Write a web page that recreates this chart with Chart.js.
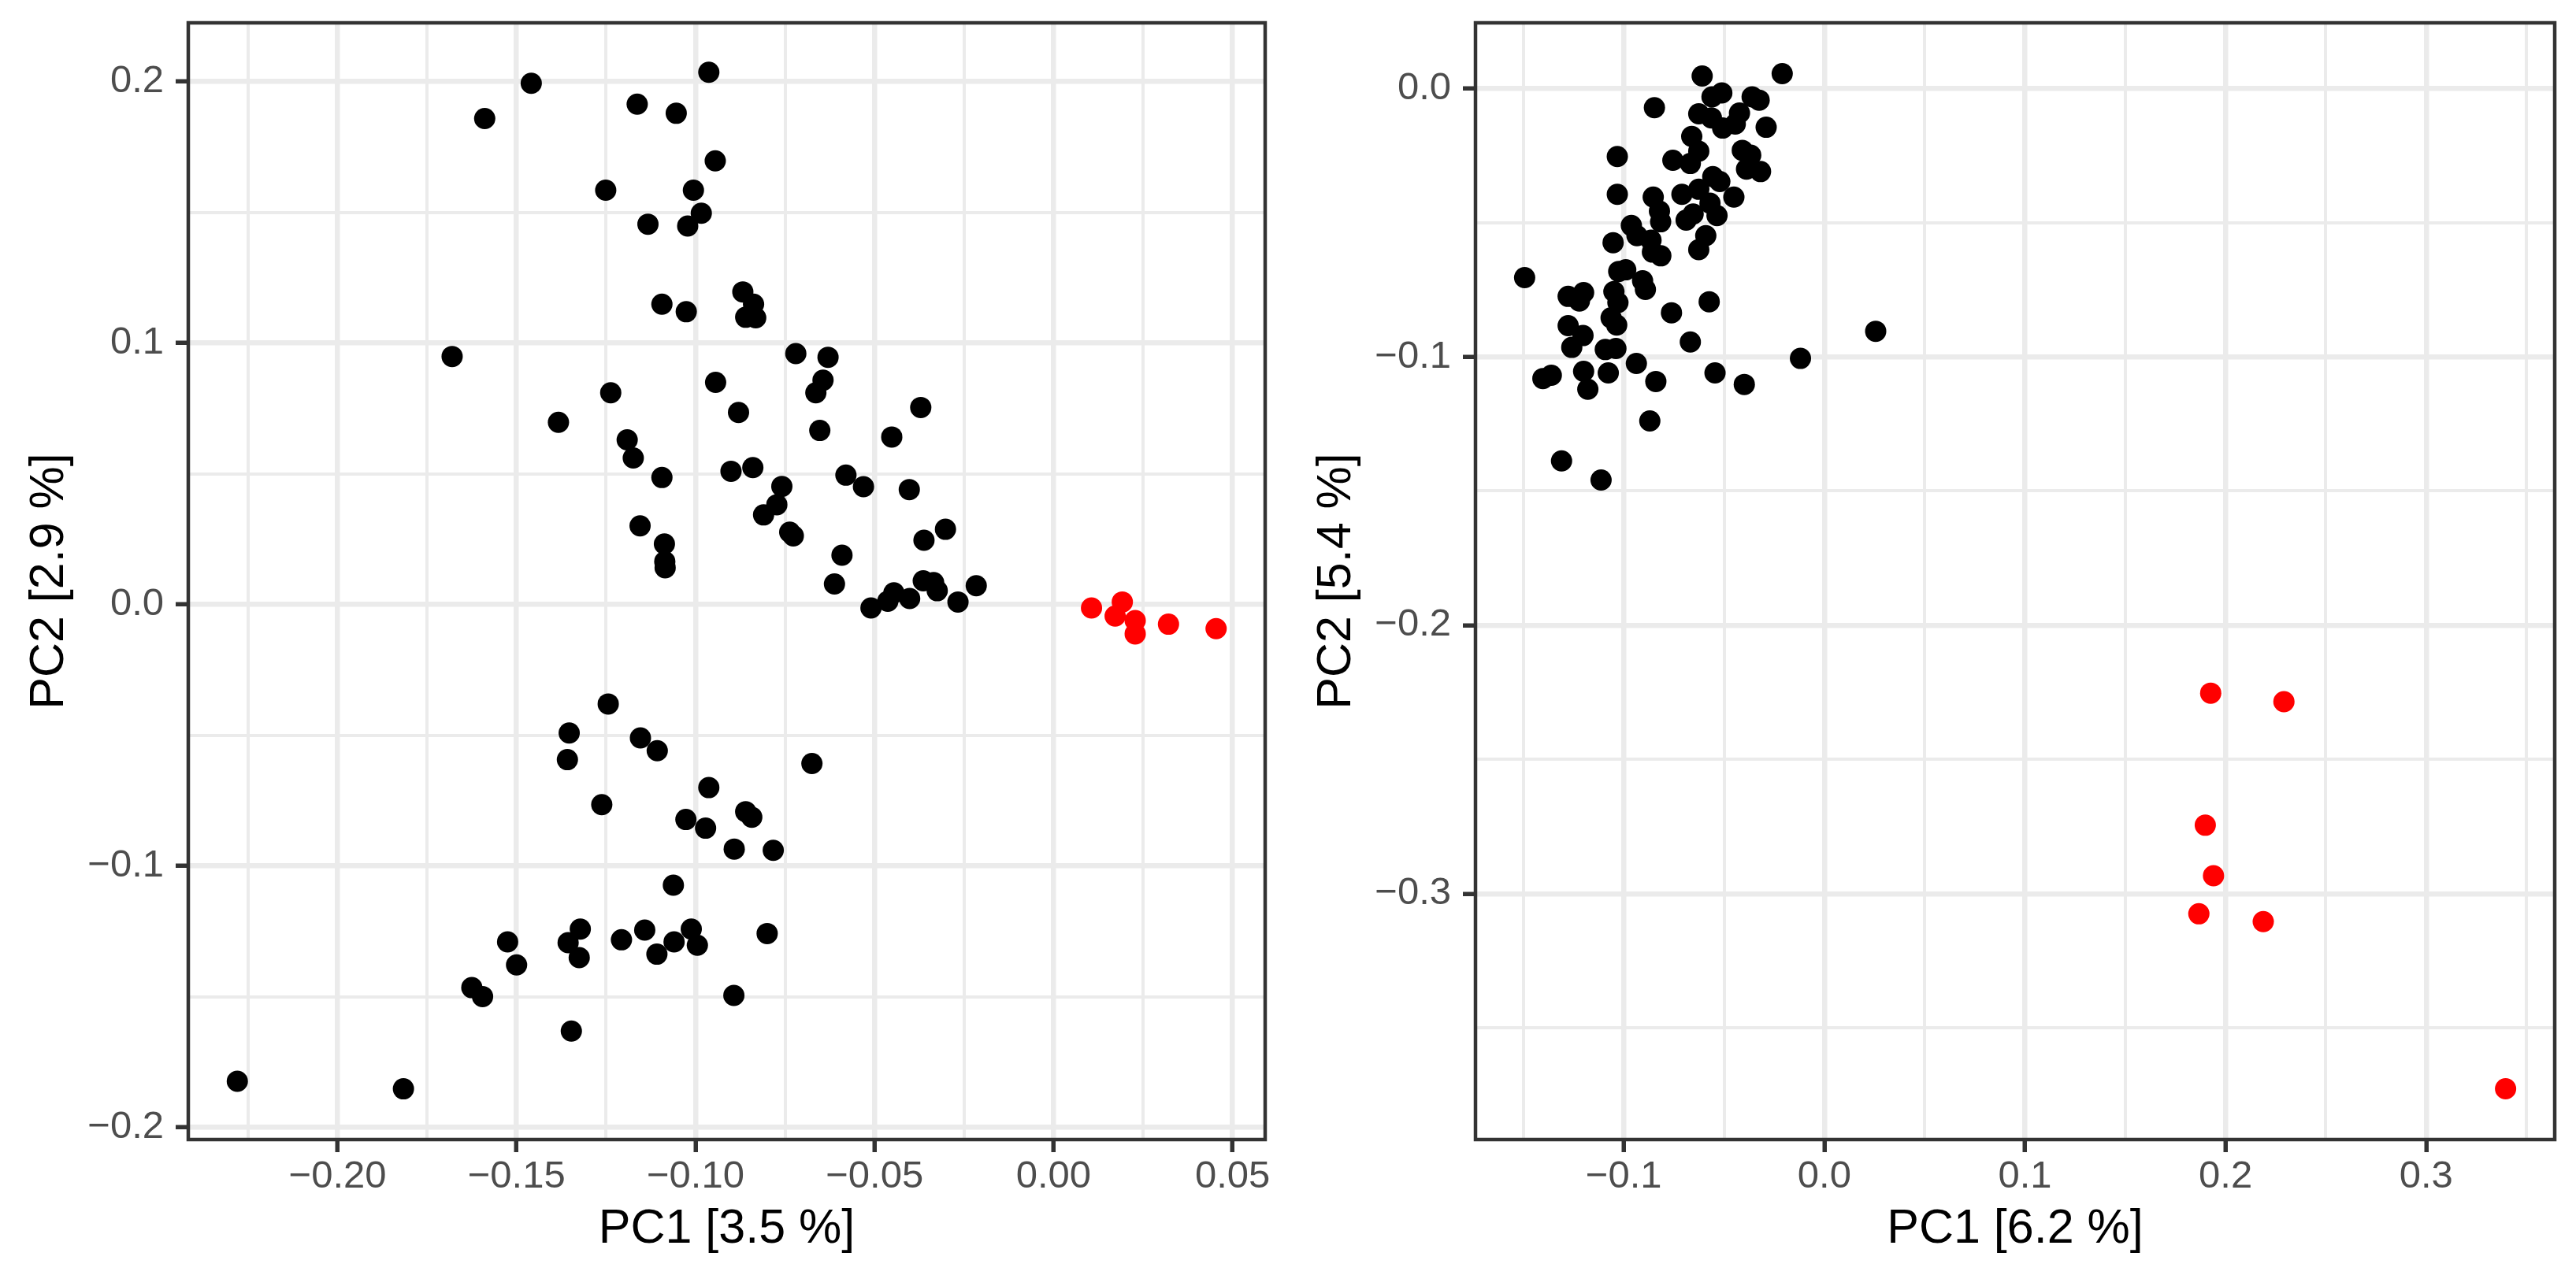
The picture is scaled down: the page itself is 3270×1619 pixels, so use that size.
<!DOCTYPE html>
<html>
<head>
<meta charset="utf-8">
<title>PCA</title>
<script src="https://cdn.jsdelivr.net/npm/chart.js@4.4.1/dist/chart.umd.min.js"></script>
<style>
    html, body { margin: 0; padding: 0; background: #ffffff; }
    #wrap { position: relative; width: 3270px; height: 1619px; }
    canvas { position: absolute; top: 0; }
    #pcaLeft { left: 0; }
    #pcaRight { left: 1640px; }
</style>
</head>
<body>
<div id="wrap">
    <canvas id="pcaLeft" width="1640" height="1619"></canvas>
    <canvas id="pcaRight" width="1630" height="1619"></canvas>
</div>
<script>
// ==================== DATA ====================
// Left panel (PC1 3.5 % / PC2 2.9 %)
const leftBlackX = [
    -0.0963, -0.1459, -0.1589, -0.1163, -0.1054, -0.0945, -0.1251, -0.1006, -0.0984, -0.1133,
    -0.1022, -0.1094, -0.1026, -0.1680, -0.0944, -0.1237, -0.1383, -0.1191, -0.1174, -0.1094,
    -0.1155, -0.1087, -0.1086, -0.1085,
    -0.0868, -0.0838, -0.0860, -0.0832, -0.0720, -0.0630, -0.0644, -0.0664, -0.0880, -0.0371,
    -0.0653, -0.0452, -0.0901, -0.0840, -0.0759, -0.0580, -0.0531, -0.0403, -0.0773, -0.0810,
    -0.0737, -0.0727, -0.0302, -0.0362, -0.0591,
    -0.0612, -0.0510, -0.0463, -0.0446, -0.0402, -0.0364, -0.0335, -0.0325, -0.0267, -0.0216,
    -0.0675, -0.0860, -0.0843, -0.0892, -0.0783, -0.0800, -0.0893,
    -0.1244, -0.1353, -0.1154, -0.1107, -0.1358, -0.0963, -0.1262, -0.1027, -0.0972, -0.1062,
    -0.1525, -0.1322, -0.1356, -0.1325, -0.1500, -0.1207, -0.1142, -0.1060, -0.1012, -0.0995,
    -0.1108, -0.1625, -0.1595, -0.1347, -0.2280, -0.1816
];
const leftBlackY = [
    0.2036, 0.1994, 0.1859, 0.1914, 0.1879, 0.1697, 0.1585, 0.1585, 0.1497, 0.1455,
    0.1448, 0.1149, 0.1120, 0.0949, 0.0850, 0.0810, 0.0697, 0.0630, 0.0561, 0.0486,
    0.0301, 0.0232, 0.0165, 0.0141,
    0.1196, 0.1149, 0.1099, 0.1097, 0.0960, 0.0946, 0.0858, 0.0810, 0.0735, 0.0754,
    0.0666, 0.0641, 0.0510, 0.0524, 0.0452, 0.0495, 0.0451, 0.0440, 0.0382, 0.0343,
    0.0277, 0.0263, 0.0288, 0.0246, 0.0189,
    0.0079, -0.0013, 0.0013, 0.0045, 0.0023, 0.0091, 0.0084, 0.0053, 0.0010, 0.0072,
    -0.0608, -0.0792, -0.0813, -0.0935, -0.0940, -0.1258, -0.1495,
    -0.0380, -0.0491, -0.0510, -0.0559, -0.0593, -0.0700, -0.0765, -0.0822, -0.0855, -0.1073,
    -0.1290, -0.1241, -0.1293, -0.1350, -0.1378, -0.1282, -0.1245, -0.1290, -0.1241, -0.1303,
    -0.1337, -0.1465, -0.1499, -0.1631, -0.1823, -0.1852
];
const leftRedX = [0.0106, 0.0192, 0.0172, 0.0228, 0.0228, 0.0321, 0.0454];
const leftRedY = [-0.0013, 0.0010, -0.0044, -0.0061, -0.0112, -0.0075, -0.0092];

// Right panel (PC1 6.2 % / PC2 5.4 %)
const rightBlackX = [
    -0.0609, -0.0210, -0.0847, -0.0511, -0.0560, -0.0360, -0.0325, -0.0626, -0.0563, -0.0507,
    -0.0444, -0.0423, -0.0290, -0.0661, -0.0626, -0.1032, -0.0755, -0.0668, -0.0409, -0.0367,
    -0.0388, -0.0318, -0.0556, -0.0521, -0.0626, -0.0710, -0.1032, -0.0853, -0.0451, -0.0822,
    -0.0570, -0.0535, -0.0654, -0.0689, -0.0816, -0.0962, -0.0591, -0.1053, -0.0934, -0.0864,
    -0.0626, -0.0857, -0.0815, -0.1494, -0.1025, -0.0990, -0.0906, -0.0892, -0.1277, -0.1200,
    -0.1221, -0.1049, -0.1029, -0.0574, -0.0762, -0.1063, -0.1035, -0.1277, -0.1203, -0.1259,
    -0.0668, 0.0256, -0.1092, -0.1039, -0.0937, -0.0119, -0.1403, -0.1361, -0.1200, -0.1077,
    -0.0545, -0.1179, -0.0840, -0.0399, -0.0870, -0.1310, -0.1113
];
const rightBlackY = [
    0.0046, 0.0055, -0.0072, -0.0017, -0.0032, -0.0032, -0.0044, -0.0095, -0.0110, -0.0148,
    -0.0133, -0.0092, -0.0145, -0.0179, -0.0234, -0.0254, -0.0268, -0.0280, -0.0231, -0.0249,
    -0.0301, -0.0310, -0.0329, -0.0347, -0.0376, -0.0395, -0.0395, -0.0405, -0.0405, -0.0457,
    -0.0428, -0.0474, -0.0468, -0.0491, -0.0497, -0.0511, -0.0549, -0.0575, -0.0549, -0.0566,
    -0.0601, -0.0610, -0.0624, -0.0705, -0.0682, -0.0676, -0.0717, -0.0749, -0.0775, -0.0761,
    -0.0792, -0.0757, -0.0798, -0.0795, -0.0836, -0.0855, -0.0882, -0.0884, -0.0921, -0.0965,
    -0.0945, -0.0905, -0.0973, -0.0969, -0.1025, -0.1006, -0.1081, -0.1069, -0.1054, -0.1060,
    -0.1060, -0.1121, -0.1092, -0.1103, -0.1239, -0.1388, -0.1459
];
const rightRedX = [0.1926, 0.2291, 0.1899, 0.1940, 0.1867, 0.2188, 0.3396];
const rightRedY = [-0.2253, -0.2285, -0.2745, -0.2933, -0.3075, -0.3104, -0.3727];

// ==================== TICKS ====================
const leftXMajor = [-0.20, -0.15, -0.10, -0.05, 0.00, 0.05];
const leftXLabels = ['\u22120.20', '\u22120.15', '\u22120.10', '\u22120.05', '0.00', '0.05'];
const leftXMinor = [-0.225, -0.175, -0.125, -0.075, -0.025, 0.025];
const leftYMajor = [-0.2, -0.1, 0.0, 0.1, 0.2];
const leftYLabels = ['\u22120.2', '\u22120.1', '0.0', '0.1', '0.2'];
const leftYMinor = [-0.15, -0.05, 0.05, 0.15];

const rightXMajor = [-0.1, 0.0, 0.1, 0.2, 0.3];
const rightXLabels = ['\u22120.1', '0.0', '0.1', '0.2', '0.3'];
const rightXMinor = [-0.15, -0.05, 0.05, 0.15, 0.25, 0.35];
const rightYMajor = [-0.3, -0.2, -0.1, 0.0];
const rightYLabels = ['\u22120.3', '\u22120.2', '\u22120.1', '0.0'];
const rightYMinor = [-0.35, -0.25, -0.15, -0.05];

// ==================== HELPERS ====================
const FONT = "'Liberation Sans', Arial, Helvetica, sans-serif";

function toPoints(xs, ys) {
    return xs.map((x, i) => ({ x: x, y: ys[i] }));
}

function majorIndex(value, majors) {
    return majors.findIndex(m => Math.abs(m - value) < 1e-9);
}

function buildAxis(o) {
    const isX = o.axis === 'x';
    return {
        type: 'linear',
        position: isX ? 'bottom' : 'left',
        min: o.min,
        max: o.max,
        afterBuildTicks: (scale) => {
            const values = o.majors.concat(o.minors)
                .filter(v => v >= o.min && v <= o.max)
                .sort((a, b) => a - b);
            scale.ticks = values.map(v => ({ value: v }));
        },
        afterFit: (scale) => {
            if (isX) scale.height = o.size;
            else scale.width = o.size;
            scale.paddingLeft = 0;
            scale.paddingRight = 0;
            scale.paddingTop = 0;
            scale.paddingBottom = 0;
        },
        grid: {
            color: '#EBEBEB',
            lineWidth: (ctx) => (ctx.tick && majorIndex(ctx.tick.value, o.majors) >= 0) ? 6.5 : 4,
            drawTicks: true,
            tickLength: 16,
            tickWidth: 5.5,
            tickColor: (ctx) => (ctx.tick && majorIndex(ctx.tick.value, o.majors) >= 0) ? '#333333' : 'rgba(0,0,0,0)'
        },
        border: { display: false },
        ticks: {
            autoSkip: false,
            maxRotation: 0,
            minRotation: 0,
            padding: isX ? 2 : 15,
            color: '#4D4D4D',
            font: { family: FONT, size: 49 },
            callback: function(value) {
                const i = majorIndex(value, o.majors);
                return i >= 0 ? o.labels[i] : '';
            }
        },
        title: {
            display: true,
            text: o.title,
            color: '#000000',
            font: { family: FONT, size: 61 },
            padding: isX ? { top: 0, bottom: o.titlePad } : { top: o.titlePad, bottom: 0 }
        }
    };
}

// Draw the full rectangle round the panel
const panelBorder = {
    id: 'panelBorder',
    afterDraw(chart) {
        const { ctx, chartArea } = chart;
        ctx.save();
        ctx.strokeStyle = '#333333';
        ctx.lineWidth = 4.5;
        ctx.strokeRect(chartArea.left, chartArea.top,
            chartArea.right - chartArea.left, chartArea.bottom - chartArea.top);
        ctx.restore();
    }
};

function makePanel(canvasId, black, red, xAxis, yAxis, padRight) {
    const ctx = document.getElementById(canvasId).getContext('2d');
    return new Chart(ctx, {
        type: 'scatter',
        data: {
            datasets: [
                {
                    label: 'red',
                    data: red,
                    backgroundColor: '#FF0000',
                    borderWidth: 0,
                    pointRadius: 13.5,
                    pointHoverRadius: 13.5
                },
                {
                    label: 'black',
                    data: black,
                    backgroundColor: '#000000',
                    borderWidth: 0,
                    pointRadius: 13.5,
                    pointHoverRadius: 13.5
                }
            ]
        },
        options: {
            responsive: false,
            animation: false,
            devicePixelRatio: 1,
            events: [],
            layout: {
                autoPadding: false,
                padding: { left: 0, right: padRight, top: 29, bottom: 0 }
            },
            plugins: {
                legend: { display: false },
                tooltip: { enabled: false }
            },
            scales: { x: xAxis, y: yAxis }
        },
        plugins: [panelBorder]
    });
}

// ==================== INITIALIZE CHARTS ====================
makePanel('pcaLeft',
    toPoints(leftBlackX, leftBlackY),
    toPoints(leftRedX, leftRedY),
    buildAxis({ axis: 'x', min: -0.2417, max: 0.0591, majors: leftXMajor, minors: leftXMinor,
        labels: leftXLabels, title: 'PC1 [3.5 %]', size: 172, titlePad: 21 }),
    buildAxis({ axis: 'y', min: -0.2046, max: 0.2225, majors: leftYMajor, minors: leftYMinor,
        labels: leftYLabels, title: 'PC2 [2.9 %]', size: 239, titlePad: 27 }),
    34
);

makePanel('pcaRight',
    toPoints(rightBlackX, rightBlackY),
    toPoints(rightRedX, rightRedY),
    buildAxis({ axis: 'x', min: -0.1739, max: 0.3641, majors: rightXMajor, minors: rightXMinor,
        labels: rightXLabels, title: 'PC1 [6.2 %]', size: 172, titlePad: 21 }),
    buildAxis({ axis: 'y', min: -0.3916, max: 0.0244, majors: rightYMajor, minors: rightYMinor,
        labels: rightYLabels, title: 'PC2 [5.4 %]', size: 233, titlePad: 21 }),
    27
);
</script>
</body>
</html>
